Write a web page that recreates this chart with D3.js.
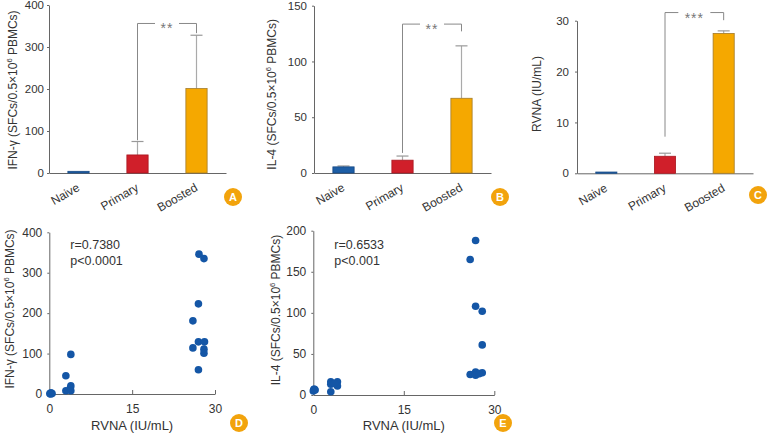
<!DOCTYPE html>
<html><head><meta charset="utf-8">
<script src="https://cdn.jsdelivr.net/npm/d3@7"></script>
<style>
body{margin:0;background:#fff}
svg{font-family:"Liberation Sans",Arial,sans-serif}
.axis path,.axis line{stroke:#666}
.axis text{fill:#333;font-size:11.5px}
</style></head><body>
<svg id="fig" width="771" height="433"></svg>
<script>
// groups of the bar panels
var groups = ["Naive", "Primary", "Boosted"];
var groupFill = ["#1d5ea6", "#d01f2a", "#f5a800"];
var groupStroke = ["#174a85", "#a8161f", "#a37b2a"];

// bar means and top of error bars (null = no visible error bar)
var ifnMean = [4, 43, 201];
var ifnErr = [null, 75, 328];
var il4Mean = [5.5, 11.5, 67];
var il4Err = [6.3, 15.2, 114];
var rvnaMean = [0.25, 3.35, 27.5];
var rvnaErr = [null, 3.95, 28.0];

// significance brackets: height, left leg end, right leg end
var ifnBracket = [356, 78, 333];
var il4Bracket = [133.5, 18, 127];
var rvnaBracket = [31.6, 7.2, 30.1];

var ifnTicks = [0, 100, 200, 300, 400];
var il4Ticks = [0, 50, 100, 150];
var rvnaTicks = [0, 10, 20, 30];
var il4ScatterTicks = [0, 50, 100, 150, 200];
var rvnaXTicks = [0, 15, 30];

// scatter D: [RVNA, IFN-g]
var ifnPts = [
  [0.1, 1], [0.3, 3], [0.5, 1], [0.2, 0],
  [3.0, 45], [3.9, 98], [3.9, 20], [3.8, 14], [3.0, 8], [3.9, 8],
  [27.1, 346], [28.0, 335], [27.0, 223], [26.0, 181], [27.0, 129],
  [28.1, 129], [26.0, 114], [28.0, 111], [28.0, 101], [27.0, 60]
];
// scatter E: [RVNA, IL-4]
var il4Pts = [
  [0.1, 7], [0.3, 6], [0.0, 5], [0.2, 7],
  [2.9, 16], [2.9, 13], [4.0, 16], [4.0, 11], [2.9, 4], [3.5, 14],
  [26.9, 188], [26.0, 165], [26.9, 108], [28.0, 102], [28.0, 61],
  [26.0, 25], [26.9, 28], [26.9, 24], [28.0, 27], [27.5, 26]
];

var svg = d3.select("#fig");

function barPanel(o) {
  var x = d3.scaleBand().domain(groups).range([o.x0, o.x1])
    .paddingInner(0.64).paddingOuter(0.32);
  var y = d3.scaleLinear().domain([0, o.max]).range([o.yb, o.yt]);
  var g = svg.append("g");

  g.append("g").attr("class", "axis")
    .attr("transform", "translate(" + o.x0 + ",0)")
    .call(d3.axisLeft(y).tickValues(o.ticks).tickSize(2).tickPadding(o.pad).tickSizeOuter(0));
  g.append("g").attr("class", "axis")
    .attr("transform", "translate(0," + o.yb + ")")
    .call(d3.axisBottom(x).tickSize(0).tickFormat(""));

  groups.forEach(function(k, i) {
    var cx = x(k) + x.bandwidth() / 2;
    if (o.err[i] != null) {
      g.append("line").attr("x1", cx).attr("x2", cx)
        .attr("y1", y(o.mean[i])).attr("y2", y(o.err[i]))
        .attr("stroke", "#aaa").attr("stroke-width", 1.2);
      g.append("line").attr("x1", cx - 6).attr("x2", cx + 6)
        .attr("y1", y(o.err[i])).attr("y2", y(o.err[i]))
        .attr("stroke", "#999").attr("stroke-width", 1.2);
    }
    g.append("rect").attr("x", x(k)).attr("width", x.bandwidth())
      .attr("y", y(o.mean[i])).attr("height", o.yb - y(o.mean[i]))
      .attr("fill", groupFill[i]).attr("stroke", groupStroke[i]).attr("stroke-width", 0.8);
    g.append("text").attr("font-size", 12).attr("fill", "#333")
      .attr("text-anchor", "end")
      .attr("transform", "translate(" + (cx + 2) + "," + (o.yb + 17) + ") rotate(-30)")
      .text(k);
  });

  // bracket
  var b = o.bracket, l = x("Primary") + x.bandwidth() / 2, r = x("Boosted") + x.bandwidth() / 2;
  var m = (l + r) / 2, hy = y(b[0]);
  var br = g.append("g").attr("stroke", "#888").attr("fill", "none").attr("stroke-width", 1);
  br.append("path").attr("d", "M" + l + "," + y(b[1]) + "V" + hy + "H" + (m - o.gap));
  br.append("path").attr("d", "M" + (m + o.gap) + "," + hy + "H" + r + "V" + y(b[2]));
  g.append("text").attr("x", m).attr("y", hy + 10).attr("text-anchor", "middle")
    .attr("font-size", 14).attr("fill", "#777").attr("letter-spacing", 1).text(o.stars);

  yLabel(g, o.lx, (o.yt + o.yb) / 2 + o.ldy, o.label);
  badge(o.bx, o.by, o.letter);
}

function yLabel(g, x, y, parts) {
  var t = g.append("text").attr("text-anchor", "middle").attr("font-size", 12).attr("fill", "#333")
    .attr("transform", "translate(" + x + "," + y + ") rotate(-90)");
  parts.forEach(function(p) {
    var s = t.append("tspan").text(p[0]);
    if (p[1]) s.attr("font-size", 7.5).attr("dy", -5);
    if (p[2]) s.attr("dy", 5);
  });
}

function badge(x, y, letter) {
  svg.append("circle").attr("cx", x).attr("cy", y).attr("r", 9).attr("fill", "#f2a30c");
  svg.append("text").attr("x", x).attr("y", y + 4).attr("text-anchor", "middle")
    .attr("font-size", 11).attr("font-weight", "bold").attr("fill", "#fff").text(letter);
}

function scatterPanel(o) {
  var x = d3.scaleLinear().domain([0, 30]).range([o.x0, o.x1]);
  var y = d3.scaleLinear().domain([0, o.max]).range([o.yb, o.yt]);
  var g = svg.append("g");
  g.append("g").attr("class", "axis")
    .attr("transform", "translate(" + o.x0 + ",0)")
    .call(d3.axisLeft(y).tickValues(o.ticks).tickSize(2).tickPadding(5).tickSizeOuter(0));
  g.append("g").attr("class", "axis")
    .attr("transform", "translate(0," + o.yb + ")")
    .call(d3.axisBottom(x).tickValues(rvnaXTicks).tickSize(-4).tickPadding(10).tickSizeOuter(0));
  g.selectAll(".axis text").style("font-size", "12px");
  g.selectAll("circle").data(o.pts).enter().append("circle")
    .attr("cx", function(d) { return x(d[0]); })
    .attr("cy", function(d) { return y(d[1]); })
    .attr("r", 3.8).attr("fill", "#1456a6");
  g.append("text").attr("x", (o.x0 + o.x1) / 2).attr("y", 430).attr("text-anchor", "middle")
    .attr("font-size", 13).attr("fill", "#333").text("RVNA (IU/mL)");
  g.append("text").attr("x", o.x0 + 21).attr("y", 248.5).attr("font-size", 12.5).attr("fill", "#333").text(o.r);
  g.append("text").attr("x", o.x0 + 21).attr("y", 265).attr("font-size", 12.5).attr("fill", "#333").text(o.p);
  yLabel(g, o.lx, o.ly, o.label);
  badge(o.bx, o.by, o.letter);
}

var ifnLabel = [["IFN-γ (SFCs/0.5×10"], ["6", true], [" PBMCs)", false, true]];
var il4Label = [["IL-4 (SFCs/0.5×10"], ["6", true], [" PBMCs)", false, true]];

barPanel({x0: 49, x1: 226, yt: 5, yb: 173, max: 400, ticks: ifnTicks, pad: 3,
  mean: ifnMean, err: ifnErr, bracket: ifnBracket, stars: "**", gap: 12,
  label: ifnLabel, lx: 17, ldy: 1, bx: 233, by: 197, letter: "A"});
barPanel({x0: 314, x1: 491, yt: 5.7, yb: 173, max: 150, ticks: il4Ticks, pad: 5,
  mean: il4Mean, err: il4Err, bracket: il4Bracket, stars: "**", gap: 12,
  label: il4Label, lx: 276, ldy: 5, bx: 500, by: 197, letter: "B"});
barPanel({x0: 577, x1: 753, yt: 20.7, yb: 173.3, max: 30, ticks: rvnaTicks, pad: 6,
  mean: rvnaMean, err: rvnaErr, bracket: rvnaBracket, stars: "***", gap: 16,
  label: [["RVNA (IU/mL)"]], lx: 541, ldy: -3, bx: 758, by: 195, letter: "C"});

scatterPanel({x0: 49.3, x1: 215, yt: 232.3, yb: 394, max: 400, ticks: ifnTicks, pts: ifnPts,
  r: "r=0.7380", p: "p<0.0001", label: ifnLabel, lx: 13.5, ly: 309, bx: 239, by: 423, letter: "D"});
scatterPanel({x0: 313.3, x1: 494.3, yt: 230.7, yb: 395, max: 200, ticks: il4ScatterTicks, pts: il4Pts,
  r: "r=0.6533", p: "p<0.001", label: il4Label, lx: 280, ly: 310, bx: 503, by: 423, letter: "E"});
</script>
</body></html>
